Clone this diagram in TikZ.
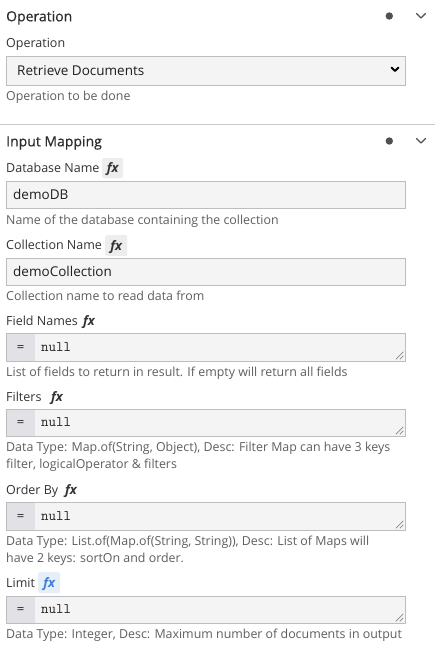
\documentclass[tikz,border=0pt]{standalone}
\usepackage{fontspec}
\setmainfont{Open Sans}
\newfontfamily\hdrfont[FakeBold=0.4]{Open Sans}
\usetikzlibrary{calc}
\definecolor{hdr}{HTML}{2B2B2B}
\definecolor{lbl}{HTML}{333333}
\definecolor{desc}{HTML}{5F5F5F}
\definecolor{val}{HTML}{1F1F1F}
\definecolor{boxfill}{HTML}{F4F4F5}
\definecolor{boxline}{HTML}{BDBDBD}
\definecolor{eqfill}{HTML}{E2E2E6}
\definecolor{fxfill}{HTML}{EDEDED}
\definecolor{fxblue}{HTML}{3D7FD6}
\definecolor{fxbluefill}{HTML}{E6EEF7}
\definecolor{dotc}{HTML}{505050}
\definecolor{sep}{HTML}{C8C8C8}
\definecolor{grip}{HTML}{8A8A8A}
\begin{document}
\begin{tikzpicture}[x=1pt,y=-1pt,
  hdrtext/.style={anchor=base west, inner sep=0pt, yshift=-5.3pt, font=\hdrfont\fontsize{14}{16}\selectfont, text=hdr},
  lbltext/.style={anchor=base west, inner sep=0pt, yshift=-4.8pt, font=\fontsize{12.5}{15}\selectfont, text=lbl},
  desctext/.style={anchor=base west, inner sep=0pt, yshift=-4.8pt, font=\fontsize{12.4}{15}\selectfont, text=desc},
  valtext/.style={anchor=base west, inner sep=0pt, yshift=-5pt, font=\fontsize{13.5}{15}\selectfont, text=val},
  monotext/.style={anchor=base west, inner sep=0pt, yshift=-4pt, font=\ttfamily\fontsize{14.5}{15}\selectfont, text=val},
  fxtext/.style={anchor=base, inner sep=0pt, yshift=-4.5pt, font=\fontsize{13}{15}\selectfont\bfseries\itshape, text=lbl},
  inbox/.style={draw=boxline, fill=boxfill, line width=0.8pt, anchor=north west, minimum width=399pt, inner sep=0pt},
  eqbox/.style={fill=eqfill, anchor=north west, minimum width=28pt, inner sep=0pt},
  fxbox/.style={fill=fxfill, rounded corners=1.5pt, anchor=north west, inner sep=0pt},
  chev/.style={draw=dotc, line width=1.3pt, line cap=round, line join=round},
  gripline/.style={draw=grip, line width=0.7pt}
]
\useasboundingbox (0,0) rectangle (435,652);
\fill[white] (0,0) rectangle (435,652);

% ---------- Operation section ----------
\node[hdrtext] (h1) at (6,16) {Operation};
\node[circle, fill=dotc, inner sep=0pt, minimum size=7.4pt] (d1) at (389.3,16) {};
\coordinate (c1a) at (416.5,13.5);
\coordinate (c1b) at (421,18);
\coordinate (c1c) at (425.5,13.5);
\draw[chev] (c1a) -- (c1b) -- (c1c);

\node[lbltext] (lop) at (6,43) {Operation};
\node[inbox, minimum height=29pt] (dd) at (6,56) {};
\node[valtext] (ddv) at (17,70.5) {Retrieve Documents};
\coordinate (a1) at (391.5,67.5);
\coordinate (a2) at (395,71);
\coordinate (a3) at (398.5,67.5);
\draw[draw=black, line width=2pt, line cap=round, line join=round] (a1) -- (a2) -- (a3);
\node[desctext] (dop) at (6,96) {Operation to be done};

\coordinate (s1) at (0,124.5);
\coordinate (s2) at (435,124.5);
\draw[draw=sep, line width=1pt] (s1) -- (s2);

% ---------- Input Mapping ----------
\node[hdrtext] (h2) at (6,141) {Input Mapping};
\node[circle, fill=dotc, inner sep=0pt, minimum size=7.4pt] (d2) at (389.3,141) {};
\coordinate (c2a) at (416.5,138.5);
\coordinate (c2b) at (421,143);
\coordinate (c2c) at (425.5,138.5);
\draw[chev] (c2a) -- (c2b) -- (c2c);

% Database Name
\node[lbltext] (ldb) at (6,168) {Database Name};
\node[fxbox, minimum width=21pt, minimum height=20pt] (fxdbb) at (102,158) {};
\node[fxtext] (fxdb) at (fxdbb.center) {fx};
\node[inbox, minimum height=27pt] (bdb) at (6,181) {};
\node[valtext] (vdb) at (13,195) {demoDB};
\node[desctext] (ddb) at (6,220) {Name of the database containing the collection};

% Collection Name
\node[lbltext] (lcn) at (6,244.5) {Collection Name};
\node[fxbox, minimum width=22pt, minimum height=21pt] (fxcnb) at (105,235) {};
\node[fxtext] (fxcn) at (fxcnb.center) {fx};
\node[inbox, minimum height=27pt] (bcn) at (6,258) {};
\node[valtext] (vcn) at (13,271.5) {demoCollection};
\node[desctext] (dcn) at (6,295.5) {Collection name to read data from};

% Field Names
\node[lbltext] (lfn) at (6,321) {Field Names};
\node[fxtext] (fxfn) at (89,321) {fx};
\node[inbox, minimum height=28pt] (tfn) at (6,333) {};
\node[eqbox, minimum height=27.2pt] (efn) at ($(tfn.north west)+(0.4,0.4)$) {};
\node[monotext, anchor=base, text=lbl] (qfn) at (efn.center) {=};
\node[monotext] (nfn) at (41,347) {null};
\draw[gripline] ($(tfn.south east)+(-10,-2.5)$) -- ($(tfn.south east)+(-2.5,-10)$);
\draw[gripline] ($(tfn.south east)+(-6,-2.5)$) -- ($(tfn.south east)+(-2.5,-6)$);
\node[desctext] (dfn) at (6,372) {List of fields to return in result. If empty will return all fields};

% Filters
\node[lbltext] (lfi) at (6,397) {Filters};
\node[fxtext] (fxfi) at (57,397) {fx};
\node[inbox, minimum height=27pt] (tfi) at (6,409) {};
\node[eqbox, minimum height=26.2pt] (efi) at ($(tfi.north west)+(0.4,0.4)$) {};
\node[monotext, anchor=base, text=lbl] (qfi) at (efi.center) {=};
\node[monotext] (nfi) at (41,422.5) {null};
\draw[gripline] ($(tfi.south east)+(-10,-2.5)$) -- ($(tfi.south east)+(-2.5,-10)$);
\draw[gripline] ($(tfi.south east)+(-6,-2.5)$) -- ($(tfi.south east)+(-2.5,-6)$);
\node[desctext] (dfi1) at (6,447) {Data Type: Map.of(String, Object), Desc: Filter Map can have 3 keys};
\node[desctext] (dfi2) at (6,464) {filter, logicalOperator \& filters};

% Order By
\node[lbltext] (lob) at (6,490) {Order By};
\node[fxtext] (fxob) at (71,490) {fx};
\node[inbox, minimum height=28pt] (tob) at (6,502) {};
\node[eqbox, minimum height=27.2pt] (eob) at ($(tob.north west)+(0.4,0.4)$) {};
\node[monotext, anchor=base, text=lbl] (qob) at (eob.center) {=};
\node[monotext] (nob) at (41,516) {null};
\draw[gripline] ($(tob.south east)+(-10,-2.5)$) -- ($(tob.south east)+(-2.5,-10)$);
\draw[gripline] ($(tob.south east)+(-6,-2.5)$) -- ($(tob.south east)+(-2.5,-6)$);
\node[desctext] (dob1) at (6,541) {Data Type: List.of(Map.of(String, String)), Desc: List of Maps will};
\node[desctext] (dob2) at (6,558) {have 2 keys: sortOn and order.};

% Limit
\node[lbltext] (lli) at (6,582.5) {Limit};
\node[fxbox, fill=fxbluefill, minimum width=22pt, minimum height=21pt] (fxlib) at (38,572) {};
\node[fxtext, text=fxblue] (fxli) at (fxlib.center) {fx};
\node[inbox, minimum height=27pt] (tli) at (6,596) {};
\node[eqbox, minimum height=26.2pt] (eli) at ($(tli.north west)+(0.4,0.4)$) {};
\node[monotext, anchor=base, text=lbl] (qli) at (eli.center) {=};
\node[monotext] (nli) at (41,609.5) {null};
\draw[gripline] ($(tli.south east)+(-10,-2.5)$) -- ($(tli.south east)+(-2.5,-10)$);
\draw[gripline] ($(tli.south east)+(-6,-2.5)$) -- ($(tli.south east)+(-2.5,-6)$);
\node[desctext] (dli) at (6,634) {Data Type: Integer, Desc: Maximum number of documents in output};
\end{tikzpicture}
\end{document}
